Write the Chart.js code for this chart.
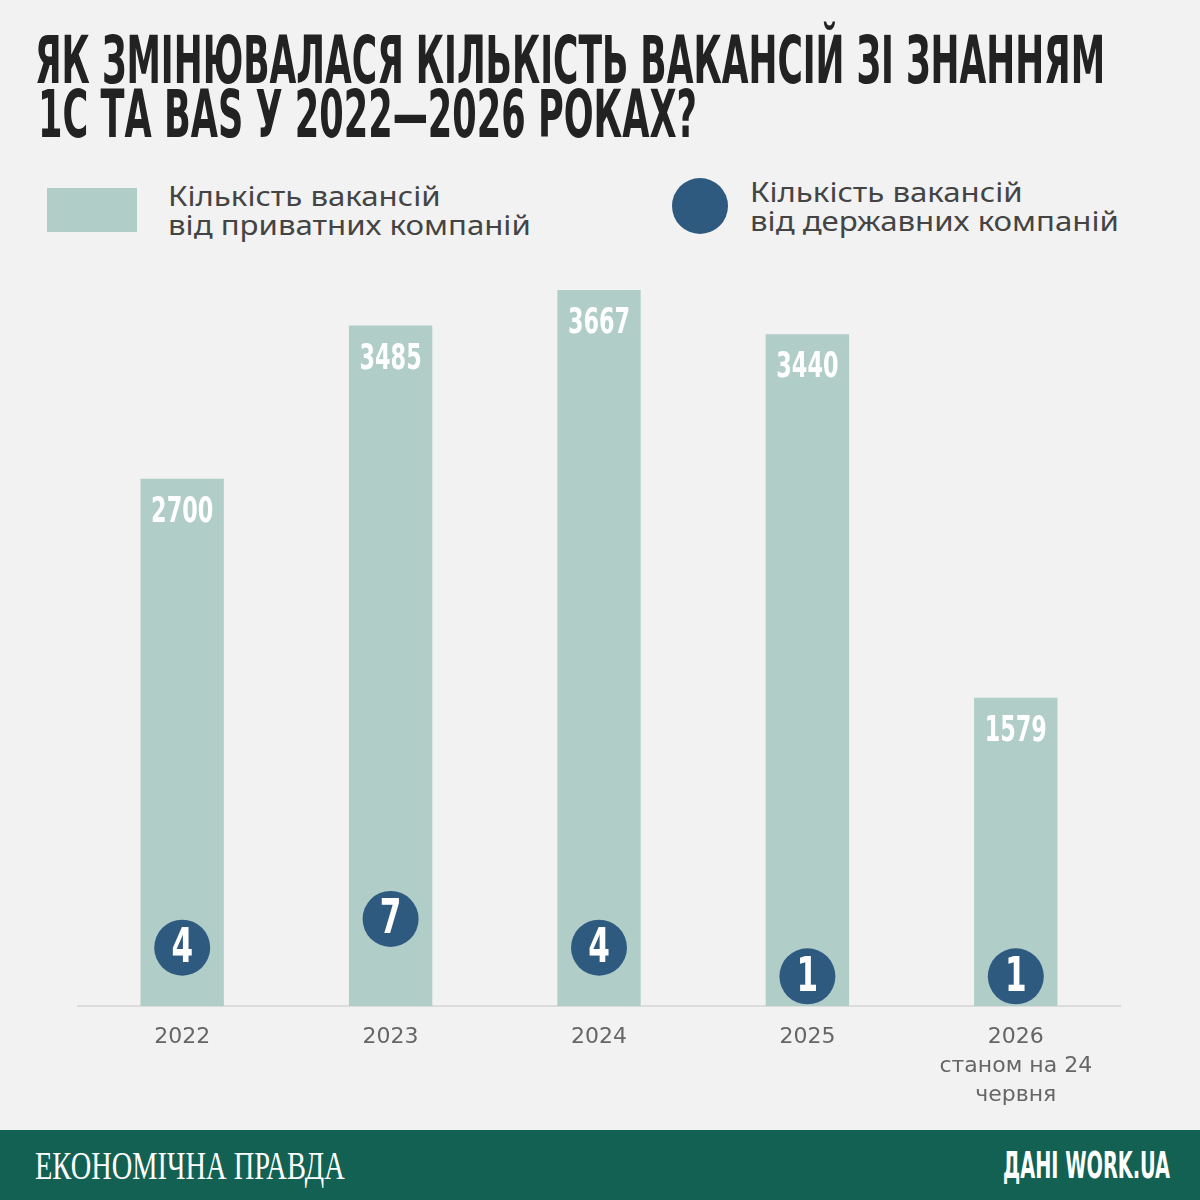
<!DOCTYPE html>
<html>
<head>
<meta charset="utf-8">
<script src="https://cdn.jsdelivr.net/npm/chart.js@4"></script>
<style>
  body { margin: 0; background: #f2f2f2; }
  #page { position: relative; width: 1200px; height: 1200px; background: #f2f2f2; overflow: hidden; }
  .abs { position: absolute; white-space: nowrap; }
  .title { font-family: "Liberation Sans Narrow", "DejaVu Sans Condensed", sans-serif; font-weight: bold; font-size: 66px; line-height: 66px; color: #222; transform-origin: left top; }
  .leg { font-family: "Noto Sans", sans-serif; font-size: 27px; line-height: 29px; color: #444; transform: scaleX(1.155); transform-origin: left top; }
  #footer { position: absolute; left: 0; top: 1130px; width: 1200px; height: 70px; background: #136153; }
</style>
</head>
<body>
<div id="page">
  <div class="abs title" id="t1" style="left:35px; top:28px;">ЯК ЗМІНЮВАЛАСЯ КІЛЬКІСТЬ ВАКАНСІЙ ЗІ ЗНАННЯМ</div>
  <div class="abs title" id="t2" style="left:38px; top:82px;">1С ТА BAS У 2022—2026 РОКАХ?</div>

  <div class="abs" style="left:47px; top:188px; width:90px; height:44px; background:#b0cdc8;"></div>
  <div class="abs leg" style="left:168px; top:181px;">Кількість вакансій<br>від приватних компаній</div>
  <div class="abs" style="left:672px; top:178px; width:56px; height:56px; border-radius:50%; background:#2f5a80;"></div>
  <div class="abs leg" style="left:750px; top:177px;">Кількість вакансій<br>від державних компаній</div>

  <div class="abs" style="left:0; top:232px; width:1200px; height:898px;">
    <canvas id="myChart" width="1200" height="898"></canvas>
  </div>

  <div id="footer">
    <div class="abs" id="f1" style="left:35px; top:13px; font-family:'Liberation Serif','DejaVu Serif',serif; font-size:41px; line-height:44px; color:#fff; transform-origin:left top;">ЕКОНОМІЧНА ПРАВДА</div>
    <div class="abs" id="f2" style="left:1003px; top:16px; font-family:'Liberation Sans Narrow','DejaVu Sans Condensed',sans-serif; font-weight:bold; font-size:37px; line-height:40px; color:#fff; transform-origin:left top;">ДАНІ WORK.UA</div>
  </div>
</div>

<script>
const years = ["2022", "2023", "2024", "2025", ["2026", "станом на 24", "червня"]];
const privateJobs = [2700, 3485, 3667, 3440, 1579];
const stateJobs = [4, 7, 4, 1, 1];

// squeeze text to the width it has in the picture
function fitWidth(id, w) {
  const el = document.getElementById(id);
  el.style.transform = "scaleX(" + (w / el.offsetWidth) + ")";
}
fitWidth("t1", 1070);
fitWidth("t2", 659);
fitWidth("f1", 310);
fitWidth("f2", 167);

const numFont = '"DejaVu Sans Condensed", sans-serif';

// narrow white numbers, squeezed sideways
function narrowText(ctx, txt, x, y, size, sx) {
  ctx.save();
  ctx.translate(x, y);
  ctx.scale(sx, 1);
  ctx.font = "bold " + size + "px " + numFont;
  ctx.fillText(txt, 0, 0);
  ctx.restore();
}

const valueLabels = {
  id: "valueLabels",
  afterDatasetsDraw(chart) {
    const ctx = chart.ctx;
    ctx.save();
    ctx.fillStyle = "#fff";
    ctx.textAlign = "center";
    ctx.textBaseline = "middle";
    chart.getDatasetMeta(0).data.forEach((bar, i) => {
      narrowText(ctx, String(privateJobs[i]), bar.x, bar.y + 34, 35, 0.71);
    });
    chart.getDatasetMeta(1).data.forEach((pt, i) => {
      narrowText(ctx, String(stateJobs[i]), pt.x, pt.y + 2, 48, 0.72);
    });
    ctx.restore();
  },
};

new Chart(document.querySelector("#myChart"), {
  data: {
    labels: years,
    datasets: [
      {
        type: "bar",
        label: "Кількість вакансій від приватних компаній",
        data: privateJobs,
        backgroundColor: "#b0cdc8",
        barPercentage: 0.4,
        categoryPercentage: 1,
        yAxisID: "y",
        order: 2,
      },
      {
        type: "line",
        label: "Кількість вакансій від державних компаній",
        data: stateJobs,
        showLine: false,
        pointRadius: 28,
        pointBackgroundColor: "#2f5a80",
        pointBorderWidth: 0,
        yAxisID: "y2",
        order: 1,
      },
    ],
  },
  options: {
    responsive: false,
    animation: false,
    devicePixelRatio: 1,
    layout: { padding: { left: 78, right: 80, top: 0, bottom: 0 } },
    plugins: { legend: { display: false }, tooltip: { enabled: false } },
    scales: {
      x: {
        grid: { display: false },
        border: { display: true, color: "#dcdcdc", width: 2 },
        ticks: {
          color: "#666",
          font: { family: "DejaVu Sans", size: 22, lineHeight: 1.32 },
          padding: 9,
          maxRotation: 0,
        },
        afterFit(scale) {
          scale.height = 124;
        },
      },
      y: { display: false, min: 0, max: 3820 },
      y2: { display: false, min: -2.1, max: 75.9 },
    },
  },
  plugins: [valueLabels],
});
</script>
</body>
</html>
